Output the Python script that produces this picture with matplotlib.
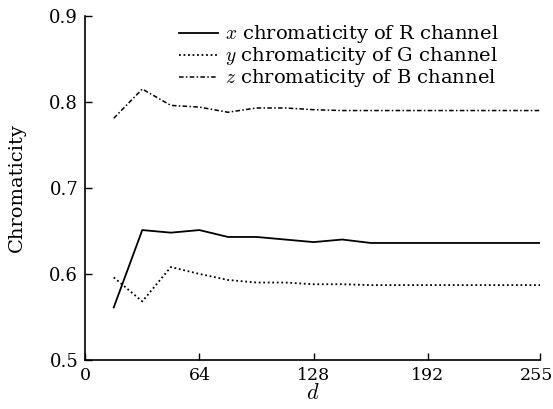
import matplotlib
matplotlib.use("Agg")
import matplotlib.pyplot as plt
import matplotlib.transforms as mtransforms
import numpy as np

plt.rcParams['font.family'] = ['DejaVu Serif']
plt.rcParams['mathtext.fontset'] = 'cm'

# sample positions of d
d = [16, 32, 48, 64, 80, 96, 112, 128, 144, 160, 176, 192, 208, 224, 240, 255]

# chromaticity values
xR = [0.561, 0.651, 0.648, 0.651, 0.643, 0.643, 0.640, 0.637, 0.640, 0.636,
      0.636, 0.636, 0.636, 0.636, 0.636, 0.636]
yG = [0.596, 0.568, 0.608, 0.600, 0.593, 0.590, 0.590, 0.588, 0.588, 0.587,
      0.587, 0.587, 0.587, 0.587, 0.587, 0.587]
zB = [0.781, 0.815, 0.796, 0.794, 0.788, 0.793, 0.793, 0.791, 0.790, 0.790,
      0.790, 0.790, 0.790, 0.790, 0.790, 0.790]

labels = [r"$x$ chromaticity of R channel",
          r"$y$ chromaticity of G channel",
          r"$z$ chromaticity of B channel"]

xticks = [0, 64, 128, 192, 255]
yticks = [0.5, 0.6, 0.7, 0.8, 0.9]

fig = plt.figure(figsize=(5.53, 4.09), dpi=100)
ax = fig.add_axes([0.154, 0.12, 0.823, 0.841])

ax.plot(d, xR, color="black", linestyle="-", linewidth=1.3, label=labels[0])
ax.plot(d, yG, color="black", linestyle=(0, (1, 1.5)), linewidth=1.3, label=labels[1])
ax.plot(d, zB, color="black", linestyle=(0, (3, 1.5, 1, 1.5)), linewidth=1.1, label=labels[2])

ax.set_xlim(0, 255)
ax.set_ylim(0.5, 0.9)
ax.set_xticks(xticks)
ax.set_yticks(yticks)
ax.set_yticklabels(["%.1f" % v for v in yticks])
ax.tick_params(direction="in", length=5, width=1, labelsize=13, pad=5)
ax.tick_params(axis="x", labelsize=12.5)
ax.spines["top"].set_visible(False)
ax.spines["right"].set_visible(False)
ax.spines["left"].set_linewidth(1.2)
ax.spines["bottom"].set_linewidth(1.2)

# keep the "255" label inside the canvas
last = ax.get_xticklabels()[-1]
last.set_transform(last.get_transform() +
                   mtransforms.ScaledTranslation(-3 / 72, 0, fig.dpi_scale_trans))

ax.set_xlabel(r"$d$", fontsize=16, labelpad=-1)
ax.set_ylabel("Chromaticity", fontsize=14, labelpad=17)

leg = ax.legend(loc="upper right", bbox_to_anchor=(0.935, 1.012), frameon=False,
                fontsize=14, handlelength=2.0, handletextpad=0.4,
                labelspacing=0.0, borderpad=0.1)

fig.savefig("out.png", dpi=100)
